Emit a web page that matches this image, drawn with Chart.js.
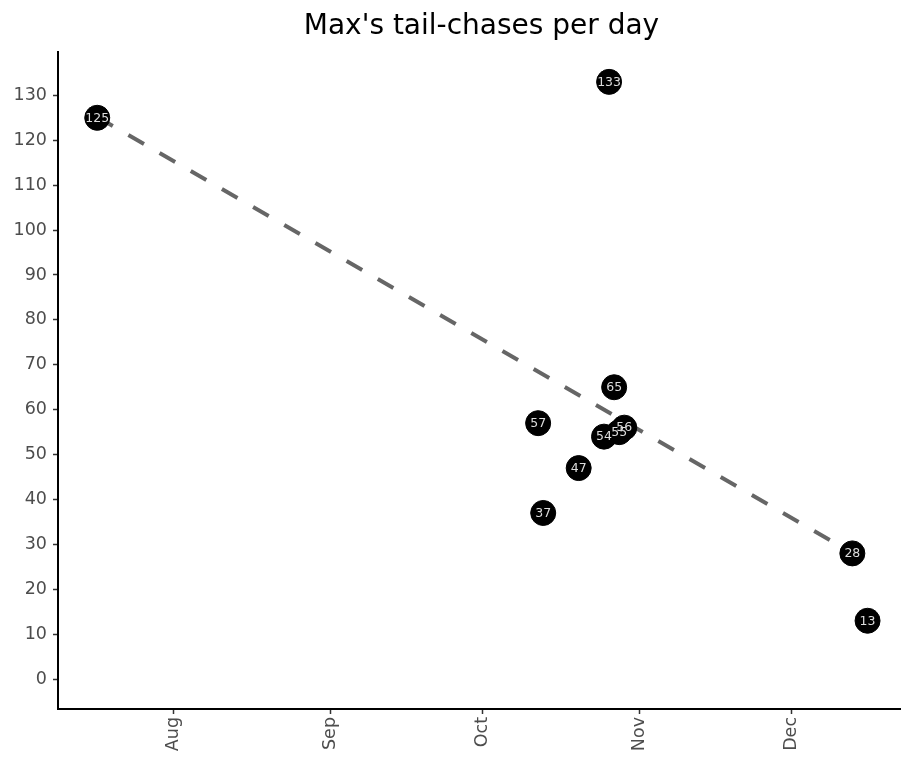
<!DOCTYPE html>
<html>
<head>
<meta charset="utf-8">
<script src="https://cdn.jsdelivr.net/npm/chart.js@4.4.1/dist/chart.umd.min.js"></script>
<style>
  html, body { margin: 0; padding: 0; background: #fff; }
  #wrap { width: 901px; height: 761px; }
</style>
</head>
<body>
<div id="wrap"><canvas id="scatterChart" width="901" height="761"></canvas></div>
<script>
"use strict";

// Datum och antal svansjakter per dag
const dates = ['2023-07-17', '2023-10-12', '2023-10-13', '2023-10-20', '2023-10-25',
  '2023-10-26', '2023-10-27', '2023-10-28', '2023-10-29', '2023-12-13', '2023-12-16'];
const chases = [125, 57, 37, 47, 54, 133, 65, 55, 56, 28, 13];

// Trendlinjen (start- och slutpunkt)
const trendDates = ['2023-07-17', '2023-12-16'];
const trendValues = [125.2, 26.1];

// Axlar
const monthTickDates = ['2023-08-01', '2023-09-01', '2023-10-01', '2023-11-01', '2023-12-01'];
const monthTickLabels = ['Aug', 'Sep', 'Oct', 'Nov', 'Dec'];
const yTicks = [0, 10, 20, 30, 40, 50, 60, 70, 80, 90, 100, 110, 120, 130];

const chartTitle = "Max's tail-chases per day";

/**
 * Omvandlar ett datum till dagnummer (dag på året).
 */
function dayOfYear(str) {
    const d = new Date(str + 'T00:00:00Z');
    const start = Date.UTC(d.getUTCFullYear(), 0, 1);
    return Math.round((d.getTime() - start) / 86400000) + 1;
}

const points = dates.map((d, i) => ({ x: dayOfYear(d), y: chases[i] }));
const trend = trendDates.map((d, i) => ({ x: dayOfYear(d), y: trendValues[i] }));
const monthTicks = monthTickDates.map(dayOfYear);

const FONT = "'DejaVu Sans', sans-serif";

// Ritar värdet i varje punkt
const pointLabels = {
    id: 'pointLabels',
    afterDatasetsDraw(chart) {
        const meta = chart.getDatasetMeta(0);
        const ctx = chart.ctx;
        ctx.save();
        ctx.font = '12.5px ' + FONT;
        ctx.fillStyle = '#dddddd';
        ctx.textAlign = 'center';
        ctx.textBaseline = 'middle';
        meta.data.forEach((el, i) => {
            ctx.fillText(String(chases[i]), el.x, el.y + 0.5);
        });
        ctx.restore();
    }
};

// Titel centrerad över ritytan
const plotTitle = {
    id: 'plotTitle',
    afterDraw(chart) {
        const ctx = chart.ctx;
        const area = chart.chartArea;
        ctx.save();
        ctx.font = '28px ' + FONT;
        ctx.fillStyle = '#000';
        ctx.textAlign = 'center';
        ctx.textBaseline = 'middle';
        ctx.fillText(chartTitle, (area.left + area.right) / 2 + 2, 27);
        ctx.restore();
    }
};

const ctx = document.getElementById('scatterChart');

new Chart(ctx, {
    type: 'scatter',
    data: {
        datasets: [
            {
                label: 'Tail-chases',
                data: points,
                backgroundColor: '#000',
                borderColor: '#000',
                pointRadius: 12.5,
                pointHoverRadius: 12.5,
                clip: false,
                order: 0
            },
            {
                type: 'line',
                label: 'Trend',
                data: trend,
                borderColor: '#666666',
                borderWidth: 4,
                borderDash: [18, 18],
                pointRadius: 0,
                fill: false,
                order: 1
            }
        ]
    },
    plugins: [pointLabels, plotTitle],
    options: {
        responsive: false,
        animation: false,
        layout: { autoPadding: false, padding: { top: 52, left: 0, right: 0, bottom: 0 } },
        plugins: {
            legend: { display: false },
            title: { display: false },
            tooltip: { enabled: false }
        },
        scales: {
            x: {
                type: 'linear',
                min: 190.26,
                max: 356.6,
                afterFit(scale) {
                    scale.height = 52;
                    scale.paddingLeft = 0;
                    scale.paddingRight = 0;
                },
                afterBuildTicks(scale) {
                    scale.ticks = monthTicks.map(v => ({ value: v }));
                },
                grid: {
                    drawOnChartArea: false,
                    drawTicks: true,
                    tickLength: 5,
                    tickColor: '#333333',
                    tickWidth: 1.5
                },
                border: { color: '#000', width: 2 },
                ticks: {
                    autoSkip: false,
                    minRotation: 90,
                    maxRotation: 90,
                    padding: 3,
                    color: '#4d4d4d',
                    font: { family: FONT, size: 17.5 },
                    callback: function (value) {
                        const idx = monthTicks.indexOf(value);
                        return idx >= 0 ? monthTickLabels[idx] : '';
                    }
                }
            },
            y: {
                type: 'linear',
                min: -6.65,
                max: 139.65,
                afterFit(scale) {
                    scale.width = 58;
                    scale.paddingTop = 0;
                    scale.paddingBottom = 0;
                },
                afterBuildTicks(scale) {
                    scale.ticks = yTicks.map(v => ({ value: v }));
                },
                grid: {
                    drawOnChartArea: false,
                    drawTicks: true,
                    tickLength: 5,
                    tickColor: '#333333',
                    tickWidth: 1.5
                },
                border: { color: '#000', width: 2 },
                ticks: {
                    padding: 6,
                    color: '#4d4d4d',
                    font: { family: FONT, size: 17.5 }
                }
            }
        }
    }
});
</script>
</body>
</html>
